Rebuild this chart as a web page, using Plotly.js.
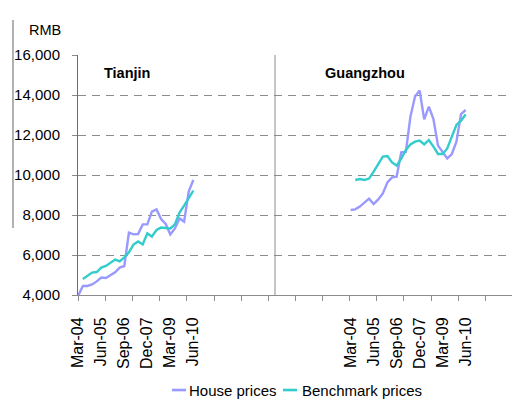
<!DOCTYPE html>
<html>
<head>
<meta charset="utf-8">
<script src="https://cdn.plot.ly/plotly-3.0.1.min.js"></script>
<style>html,body{margin:0;padding:0;background:#fff;}#chart{width:512px;height:401px;}</style>
</head>
<body>
<div id="chart"></div>
<script>
// Quarterly categories (same for both cities)
var quarters = ['Mar-04','Jun-04','Sep-04','Dec-04','Mar-05','Jun-05','Sep-05','Dec-05',
  'Mar-06','Jun-06','Sep-06','Dec-06','Mar-07','Jun-07','Sep-07','Dec-07',
  'Mar-08','Jun-08','Sep-08','Dec-08','Mar-09','Jun-09','Sep-09','Dec-09','Mar-10','Jun-10'];
var tickLabels = ['Mar-04','Jun-05','Sep-06','Dec-07','Mar-09','Jun-10'];
var cities = ['Tianjin','Guangzhou'];
var seriesNames = ['House prices','Benchmark prices'];

var tianjinHouse = [3980,4450,4450,4530,4680,4870,4850,5000,5130,5370,5450,7120,7030,7050,7530,7530,8170,8280,7800,7550,7030,7330,7830,7670,9170,9750];
var tianjinBench = [null,4800,4980,5120,5150,5370,5450,5630,5770,5680,5880,6130,6520,6680,6530,7080,6920,7250,7370,7350,7330,7530,8120,8470,8830,9220];
var guangzhouHouse = [8250,8280,8420,8630,8820,8550,8780,9080,9630,9880,9920,11130,11150,12920,13920,14220,12780,13420,12800,11470,11130,10830,11050,11670,13050,13250];
var guangzhouBench = [null,9750,9800,9750,9820,10170,10580,10920,10950,10630,10470,10820,11250,11530,11670,11720,11530,11750,11420,11050,11050,11330,11920,12500,12720,13020];

// layout constants (panel offsets on a shared index axis)
var panelOffset = [0, 59.2];
var colors = ['#9999FF', '#33CCCC'];
var FONT = 'Liberation Sans, Arial, sans-serif';

function xs(off){ return quarters.map(function(q,i){ return i + off; }); }

var data = [
  [tianjinHouse, tianjinBench],
  [guangzhouHouse, guangzhouBench]
];
var traces = [];
data.forEach(function(city, c){
  city.forEach(function(vals, s){
    traces.push({
      type: 'scatter', mode: 'lines',
      x: xs(panelOffset[c]), y: vals,
      name: seriesNames[s], legendgroup: seriesNames[s],
      showlegend: false,
      line: {color: colors[s], width: 2.4},
      connectgaps: false,
      hoverinfo: 'skip'
    });
  });
});

var tickvals = [], ticktext = [];
panelOffset.forEach(function(off){
  tickLabels.forEach(function(t){
    tickvals.push(quarters.indexOf(t) + off);
    ticktext.push(t);
  });
});

// legend drawn as key lines + text (short keys like the original)
var legendKeys = [[0.2166, 0.2488, 0.2558], [0.4724, 0.5046, 0.5161]];
var legendY = -0.396;
var shapes = [
  {type: 'line', xref: 'x', yref: 'paper', x0: 42.76, x1: 42.76, y0: 0, y1: 1,
   line: {color: '#8c8c8c', width: 1}},
  {type: 'line', xref: 'paper', yref: 'paper', x0: -0.1498, x1: -0.1498, y0: 0.279, y1: 1.146,
   line: {color: '#999', width: 1.5}}
];
var annotations = [
  {text: 'RMB', xref: 'paper', yref: 'paper', x: -0.076, y: 1.104, showarrow: false,
   xanchor: 'center', yanchor: 'middle', font: {family: FONT, size: 14.5, color: '#000'}},
  {text: '<b>' + cities[0] + '</b>', xref: 'paper', yref: 'paper', x: 0.0546, y: 0.926,
   showarrow: false, xanchor: 'left', yanchor: 'middle', font: {family: FONT, size: 14.5, color: '#000'}},
  {text: '<b>' + cities[1] + '</b>', xref: 'paper', yref: 'paper', x: 0.5638, y: 0.926,
   showarrow: false, xanchor: 'left', yanchor: 'middle', font: {family: FONT, size: 14.5, color: '#000'}}
];
seriesNames.forEach(function(n, s){
  var k = legendKeys[s];
  shapes.push({type: 'line', xref: 'paper', yref: 'paper', x0: k[0], x1: k[1], y0: legendY, y1: legendY,
               line: {color: colors[s], width: 2.6}});
  annotations.push({text: n, xref: 'paper', yref: 'paper', x: k[2], y: legendY, showarrow: false,
                    xanchor: 'left', yanchor: 'middle', xshift: -2,
                    font: {family: FONT, size: 15, color: '#000'}});
});

var layout = {
  width: 512, height: 401,
  margin: {l: 78, r: 0, t: 55, b: 106, pad: 0},
  paper_bgcolor: '#fff', plot_bgcolor: '#fff',
  font: {family: FONT, size: 15, color: '#000'},
  showlegend: false,
  xaxis: {
    range: [-0.065, 94.28], fixedrange: true, automargin: false,
    tickmode: 'array', tickvals: tickvals, ticktext: ticktext,
    tickangle: -90, ticks: '', ticklabelstandoff: 15,
    tickfont: {family: FONT, size: 16, color: '#000'},
    showgrid: false, zeroline: false,
    showline: true, linecolor: '#8c8c8c', linewidth: 1,
    minor: {tickmode: 'linear', tick0: 0, dtick: 5.9, ticks: 'outside', ticklen: 5,
            tickcolor: '#8c8c8c', tickwidth: 1, showgrid: false}
  },
  yaxis: {
    range: [4000, 16000], fixedrange: true, automargin: false,
    tickmode: 'linear', tick0: 4000, dtick: 2000, tickformat: ',d',
    ticks: 'outside', ticklen: 5, tickcolor: '#8c8c8c', ticklabelstandoff: 9,
    tickfont: {family: FONT, size: 15, color: '#000'},
    showgrid: true, gridcolor: '#8c8c8c', gridwidth: 1, griddash: '8px,6px',
    zeroline: false, showline: true, linecolor: '#6e6e6e', linewidth: 1
  },
  shapes: shapes,
  annotations: annotations
};

Plotly.newPlot('chart', traces, layout, {staticPlot: true, displayModeBar: false});
</script>
</body>
</html>
